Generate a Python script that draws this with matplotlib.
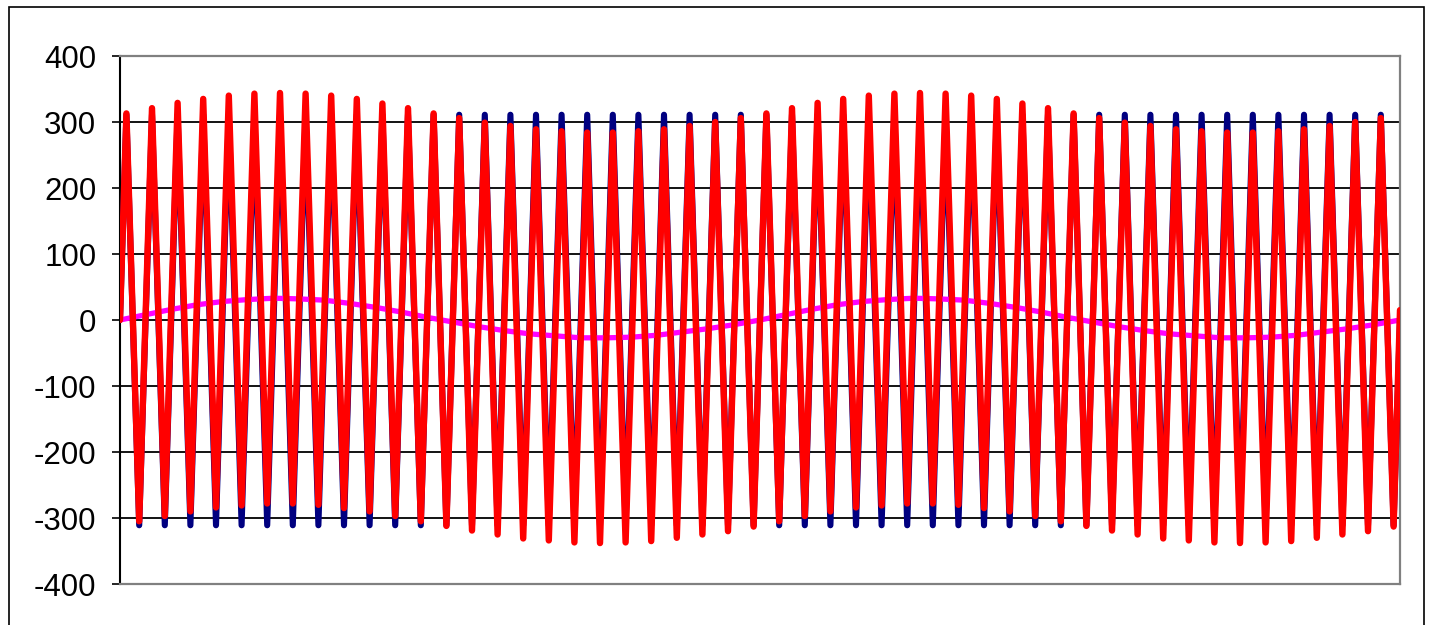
import matplotlib.pyplot as plt
import matplotlib.patches as patches
import numpy as np

plt.rcParams['axes.unicode_minus'] = False

# one entry per cycle (50 cycles across the chart)
navy_peaks = [311] * 50
navy_troughs = [-311] * 50

red_peaks = [313, 321, 329, 335, 340, 343, 344, 343, 340, 335, 328, 321, 313,
             306, 299, 294, 289, 286, 284, 284, 286, 289, 294, 300, 306,
             313, 321, 329, 335, 340, 343, 344, 343, 340, 335, 328, 321, 313,
             306, 299, 294, 289, 286, 284, 284, 286, 289, 294, 300, 306]
red_troughs = [-305, -297, -290, -284, -281, -278, -278, -280, -285, -290, -297, -305, -312,
               -319, -325, -331, -334, -337, -338, -337, -335, -330, -325, -320, -313,
               -305, -297, -290, -284, -281, -278, -278, -280, -285, -290, -297, -305, -312,
               -319, -325, -331, -334, -337, -338, -337, -335, -330, -325, -320, -313]
red_start, red_end = 0, 15
navy_start, navy_end = 0, 0

# slow curve, read at every cycle boundary (51 points)
magenta = [0, 8, 16, 23, 28, 31, 33, 32, 30, 25, 19, 12, 4, -3, -10, -16, -21, -24,
           -27, -27, -26, -23, -18, -13, -7,
           0, 8, 16, 23, 28, 31, 33, 32, 30, 25, 19, 12, 4, -3, -10, -16, -21, -24,
           -27, -27, -26, -23, -18, -13, -7, 0]

yticks = [-400, -300, -200, -100, 0, 100, 200, 300, 400]


def wave(start, peaks, troughs, end):
    n = len(peaks)
    xs = np.column_stack([np.arange(n) + 0.25, np.arange(n) + 0.75]).ravel()
    ys = np.column_stack([peaks, troughs]).ravel()
    xs = np.concatenate([[0], xs, [n]])
    ys = np.concatenate([[start], ys, [end]])
    return xs, ys


fig = plt.figure(figsize=(14.31, 6.25), dpi=100)
ax = fig.add_axes([120 / 1431, 1 - 584 / 625, 1280 / 1431, 528 / 625])

# outer chart border
fig.patches.append(patches.Rectangle((9 / 1431, -0.02), 1415 / 1431, 1 - 7 / 625 + 0.02,
                                     transform=fig.transFigure, fill=False,
                                     edgecolor='black', linewidth=1.2))

xn, yn = wave(navy_start, navy_peaks, navy_troughs, navy_end)
xr, yr = wave(red_start, red_peaks, red_troughs, red_end)
ax.plot(xn, yn, color='#000080', linewidth=4.4, zorder=3,
        solid_joinstyle='round', solid_capstyle='round')
ax.plot(np.arange(len(magenta)), magenta, color='#FF00FF', linewidth=3.8, zorder=4)
ax.plot(xr, yr, color='#FF0000', linewidth=4.6, zorder=5,
        solid_joinstyle='round', solid_capstyle='round')

ax.set_xlim(0, 50)
ax.set_ylim(-400, 400)
ax.set_yticks(yticks)
ax.set_xticks([])
for y in yticks[1:-1]:
    ax.axhline(y, color='black', linewidth=1.3, zorder=1)

ax.spines['left'].set_color('black')
ax.spines['left'].set_linewidth(1.5)
for s in ['top', 'right', 'bottom']:
    ax.spines[s].set_color('#808080')
    ax.spines[s].set_linewidth(1.6)

ax.tick_params(axis='y', direction='out', length=6, width=1.2, pad=11,
               labelsize=22.5)
for lab in ax.get_yticklabels():
    lab.set_fontfamily('Liberation Sans')

fig.savefig('out.png', dpi=100)
